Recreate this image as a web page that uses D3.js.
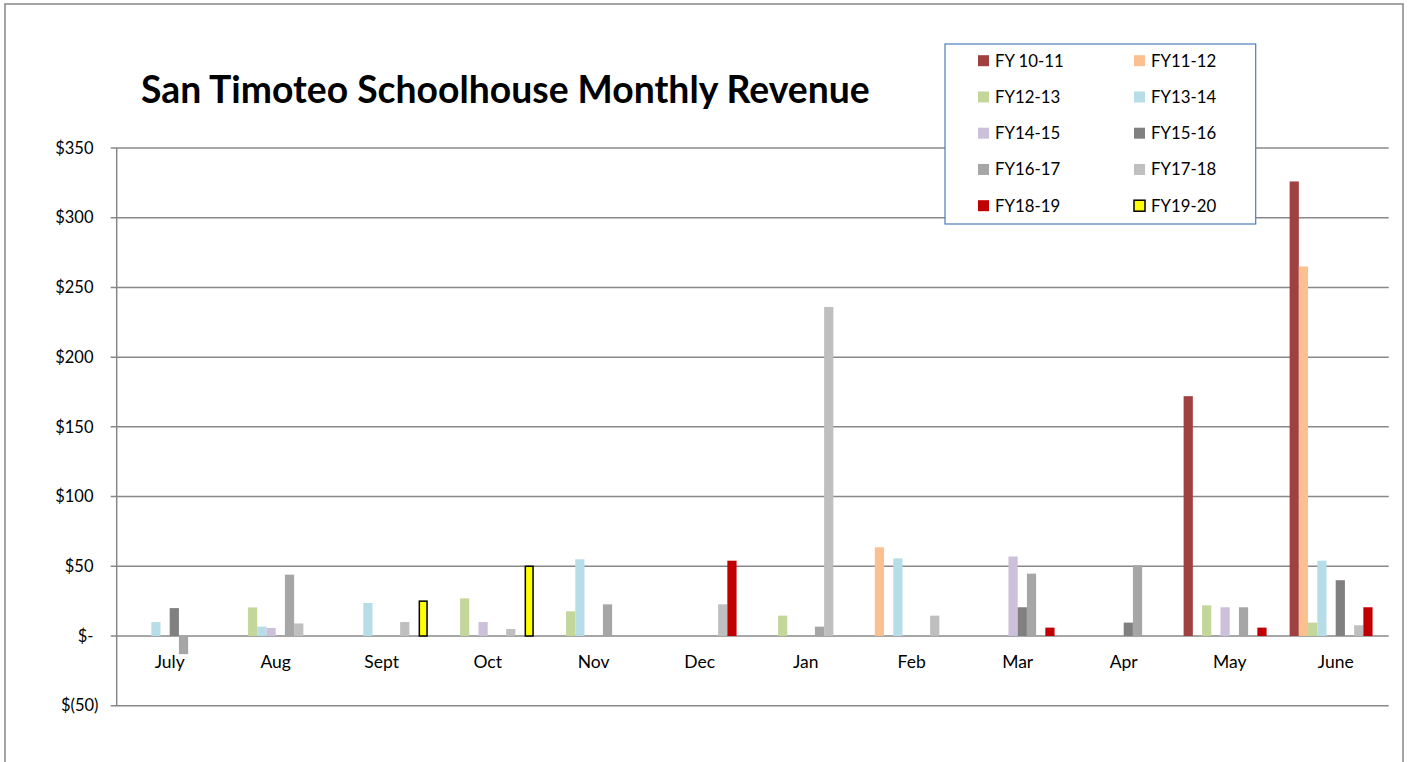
<!DOCTYPE html>
<html><head><meta charset="utf-8">
<script src="https://cdn.jsdelivr.net/npm/d3@7"></script>
<style>html,body{margin:0;padding:0;background:#fff;} svg{display:block;}</style>
</head><body>
<script>
const months = ["July","Aug","Sept","Oct","Nov","Dec","Jan","Feb","Mar","Apr","May","June"];
const seriesNames = ["FY 10-11","FY11-12","FY12-13","FY13-14","FY14-15","FY15-16","FY16-17","FY17-18","FY18-19","FY19-20"];
const seriesColors = ["#a04040","#fac090","#c4d79b","#b7dee8","#ccc0da","#808080","#a6a6a6","#bfbfbf","#c00000","#ffff00"];
// values per series, one per month (July..June); null = no value
const fy1011 = [null,null,null,null,null,null,null,null,null,null,172,326];
const fy1112 = [null,null,null,null,null,null,null,63.6,null,null,null,265];
const fy1213 = [null,20.5,null,27,17.7,null,14.6,null,null,null,22,9.6];
const fy1314 = [10,6.7,23.7,null,55,null,null,55.7,null,null,null,54];
const fy1415 = [null,5.8,null,10,null,null,null,null,57,null,20.6,null];
const fy1516 = [20,null,null,null,null,null,null,null,20.6,9.6,null,40];
const fy1617 = [-13,44,null,null,22.7,null,6.7,null,44.7,50.7,20.6,null];
const fy1718 = [null,9,10,5,null,22.7,236,14.6,null,null,null,7.7];
const fy1819 = [null,null,null,null,null,54,null,null,6,null,6,20.6];
const fy1920 = [null,null,25,50,null,null,null,null,null,null,null,null];
const yTicks = [-50,0,50,100,150,200,250,300,350];
const chartTitle = "San Timoteo Schoolhouse Monthly Revenue";

const seriesValues = [fy1011,fy1112,fy1213,fy1314,fy1415,fy1516,fy1617,fy1718,fy1819,fy1920];

(function(){
const W = 1409, H = 762;
const font = "Lato, 'Open Sans', sans-serif";
const svg = d3.select("body").append("svg").attr("width", W).attr("height", H);

// outer chart border
svg.append("rect").attr("x",5).attr("y",4).attr("width",1398).attr("height",H+10)
  .attr("fill","#fff").attr("stroke","#868686").attr("stroke-width",1.5);

const pl = 116.7, pr = 1388.7, pt = 148, pb = 705.7;

const x = d3.scaleBand().domain(months).range([pl,pr])
  .paddingInner(13.83/106).paddingOuter(6.915/106);
const xs = d3.scaleBand().domain(seriesNames).range([0,x.bandwidth()]).padding(0);
const y = d3.scaleLinear().domain([-50,350]).range([pb, pt]);

const fmt = v => v === 0 ? "$-" : (v < 0 ? "$(" + Math.abs(v) + ")" : "$" + v);

// gridlines
svg.append("g").selectAll("line").data(yTicks).join("line")
  .attr("x1", pl-6).attr("x2", pr)
  .attr("y1", d => y(d)).attr("y2", d => y(d))
  .attr("stroke","#888").attr("stroke-width",1.5);
// y axis line
svg.append("line").attr("x1",pl).attr("x2",pl).attr("y1",pt).attr("y2",pb)
  .attr("stroke","#888").attr("stroke-width",1.5);

// y tick labels (accounting format: negative paren hangs out)
svg.append("g").selectAll("text").data(yTicks).join("text")
  .attr("x", d => d < 0 ? 98.5 : 93.5).attr("y", d => y(d)).attr("dy","0.35em")
  .attr("text-anchor","end").attr("font-family",font).attr("font-size",16.5)
  .attr("fill","#000").text(fmt);

// bars
const groups = svg.append("g").selectAll("g").data(seriesNames).join("g");
groups.each(function(name, si){
  const data = months.map((m,i)=>({m, v: seriesValues[si][i]})).filter(d => d.v !== null);
  d3.select(this).selectAll("rect").data(data).join("rect")
    .attr("x", d => x(d.m) + xs(name) + (si===9?0.75:0))
    .attr("width", xs.bandwidth() - (si===9?1.5:0))
    .attr("y", d => y(Math.max(0,d.v)))
    .attr("height", d => Math.abs(y(d.v) - y(0)))
    .attr("fill", seriesColors[si])
    .attr("stroke", si===9 ? "#000" : "none")
    .attr("stroke-width", si===9 ? 1.5 : 0);
});

// category labels
svg.append("g").selectAll("text").data(months).join("text")
  .attr("x", d => x(d) + x.bandwidth()/2).attr("y", 662).attr("dy","0.35em")
  .attr("text-anchor","middle").attr("font-family",font).attr("font-size",17.5)
  .attr("fill","#000").text(d => d);

// title
const t = svg.append("text").attr("x",141).attr("y",103)
  .attr("font-family",font).attr("font-weight","bold").attr("font-size",33)
  .attr("fill","#000").text(chartTitle);
const tw = t.node().getComputedTextLength();
t.attr("font-size", 33 * 729 / tw);

// legend
svg.append("rect").attr("x",945).attr("y",44).attr("width",310.7).attr("height",180)
  .attr("fill","#fff").attr("stroke","#4a7ebb").attr("stroke-width",1.2);
const leg = svg.append("g").selectAll("g").data(seriesNames).join("g")
  .attr("transform",(d,i)=>`translate(${i%2===0?978:1134},${60.7 + Math.floor(i/2)*36.25})`);
leg.append("rect").attr("x",0).attr("y",-5.5).attr("width",11).attr("height",11)
  .attr("fill",(d,i)=>seriesColors[i])
  .attr("stroke",(d,i)=> i===9 ? "#000" : "none").attr("stroke-width",1.5);
leg.append("text").attr("x",17).attr("y",0).attr("dy","0.35em")
  .attr("font-family",font).attr("font-size",16.8).attr("fill","#000").text(d=>d);
})();
</script>
</body></html>
